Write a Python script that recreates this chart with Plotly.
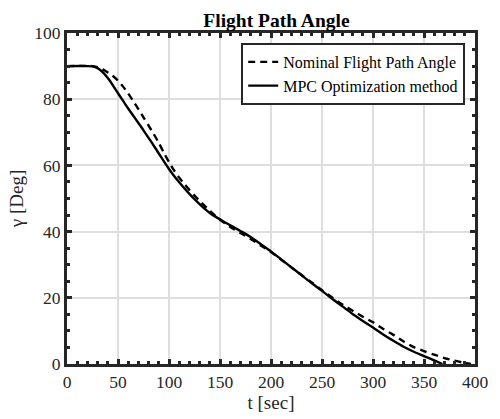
import plotly.graph_objects as go

t_mpc = [0, 20, 25, 30, 35, 40, 45, 50, 55, 60, 65, 70, 75, 80, 85, 90, 95, 100, 105, 110, 115, 120, 125,
         130, 135, 140, 145, 150, 160, 170, 180, 190, 200, 210, 220, 230, 240, 250, 260, 270, 280, 290,
         300, 310, 320, 330, 340, 350, 360, 368]
g_mpc = [90, 90, 89.9, 89.4, 88.2, 86.4, 84.2, 81.8, 79.5, 77.2, 75, 72.8, 70.6, 68.3, 66, 63.6, 61.2, 58.9,
         56.8, 54.9, 53.1, 51.4, 49.8, 48.3, 46.9, 45.6, 44.6, 43.7, 41.9, 40.2, 38.4, 36.2, 34, 31.6, 29.2,
         26.8, 24.4, 22.1, 19.7, 17.4, 15.1, 13, 11, 8.9, 7, 5.2, 3.7, 2.4, 1.1, 0]

t_nom = [0, 25, 30, 35, 40, 45, 50, 55, 60, 65, 70, 75, 80, 85, 90, 95, 100, 105, 110, 115, 120, 125, 130,
         135, 140, 145, 150, 160, 170, 180, 190, 200, 210, 220, 230, 240, 250, 260, 270, 280, 290, 300, 310,
         320, 330, 340, 350, 360, 370, 380, 390, 396]
g_nom = [90, 90, 89.7, 89, 88.1, 87, 85.6, 83.8, 81.7, 79.4, 77, 74.5, 72, 69.5, 66.8, 63.8, 61, 58.5, 56.3,
         54.4, 52.6, 50.9, 49.3, 47.8, 46.3, 44.9, 43.6, 41.4, 39.6, 37.8, 35.8, 33.8, 31.5, 29.2, 26.9, 24.6,
         22.3, 20.1, 18, 16.1, 14.3, 12.6, 10.6, 8.8, 6.8, 5.1, 3.9, 2.8, 1.8, 1, 0.3, 0]

x_ticks = [0, 50, 100, 150, 200, 250, 300, 350, 400]
y_ticks = [0, 20, 40, 60, 80, 100]

FONT = "Liberation Serif"
AX = "#262626"

fig = go.Figure()
fig.add_trace(go.Scatter(x=t_nom, y=g_nom, mode="lines", name="Nominal Flight Path Angle",
                         line=dict(color="black", width=2.4, dash="7px,5px", shape="spline", smoothing=0.8)))
fig.add_trace(go.Scatter(x=t_mpc, y=g_mpc, mode="lines", name="MPC Optimization method",
                         line=dict(color="black", width=2.4, shape="spline", smoothing=0.8)))

axis_common = dict(
    showline=True, linecolor=AX, linewidth=3, mirror="allticks",
    ticks="inside", ticklen=5, tickwidth=2.5, tickcolor=AX,
    showgrid=True, gridcolor="#dedede", gridwidth=2, zeroline=False,
    tickfont=dict(family=FONT, size=17.5, color=AX),
)

fig.update_layout(
    width=500, height=419,
    margin=dict(l=67, r=15, t=33, b=51),
    plot_bgcolor="white", paper_bgcolor="white",
    title=dict(text="<b>Flight Path Angle</b>", x=0.553, xanchor="center", y=0.953, yanchor="middle",
               font=dict(family=FONT, size=19.5, color="black")),
    xaxis=dict(range=[0, 400], tickvals=x_ticks, **axis_common,
               minor=dict(dtick=10, tick0=0, ticks="inside", ticklen=3, tickwidth=2.5, tickcolor=AX, showgrid=False),
               title=dict(text="t [sec]", font=dict(family=FONT, size=19, color=AX), standoff=2)),
    yaxis=dict(range=[0, 100], tickvals=y_ticks, **axis_common,
               minor=dict(dtick=5, tick0=0, ticks="inside", ticklen=3, tickwidth=2.5, tickcolor=AX, showgrid=False),
               title=dict(text="γ [Deg]", font=dict(family=FONT, size=19, color=AX), standoff=6)),
    legend=dict(x=0.976, y=0.97, xanchor="right", yanchor="top", bgcolor="white",
                bordercolor=AX, borderwidth=2, font=dict(family=FONT, size=16, color="black"),
                tracegroupgap=0, itemwidth=30),
    showlegend=True,
)

fig.write_html("out.html")
